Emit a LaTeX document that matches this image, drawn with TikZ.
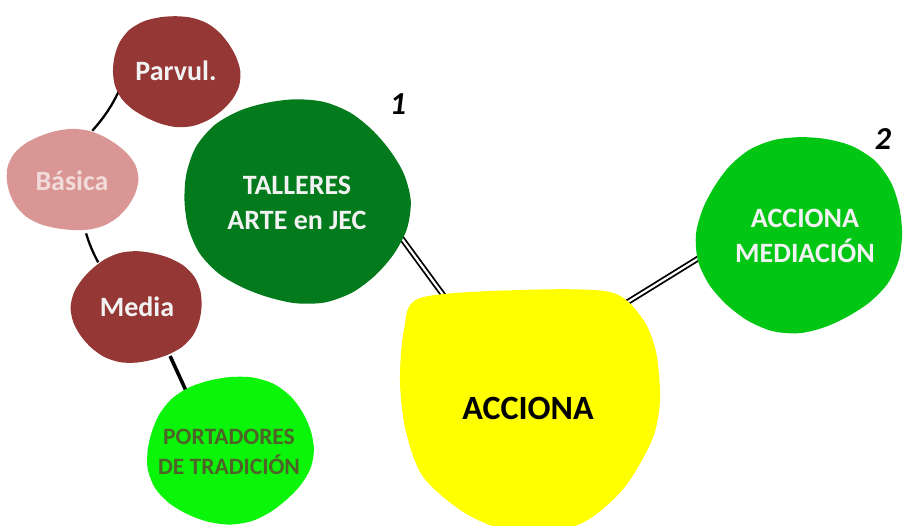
\documentclass[tikz,border=0pt]{standalone}
\usepackage{fontspec}
\setmainfont{Carlito}
\pgfdeclarelayer{lines}
\pgfdeclarelayer{blobs}
\pgfsetlayers{lines,blobs,main}
\definecolor{brown1}{HTML}{953735}
\definecolor{pink1}{HTML}{D99694}
\definecolor{pinktext}{HTML}{F2DCDB}
\definecolor{paletext}{HTML}{F2F2F2}
\definecolor{darkgreen1}{HTML}{037A1B}
\definecolor{midgreen}{HTML}{02C614}
\definecolor{brightgreen}{HTML}{0AF50A}
\definecolor{olivetext}{HTML}{4F6228}
\definecolor{yellow1}{HTML}{FFFF00}
\newcommand\blobat[6]{%
  \begin{pgfonlayer}{blobs}
  \fill[#6] plot[smooth cycle, domain=0:345, samples=24, variable=\q]
    ({#1+#3*(1+0.03*sin(2*\q+#5)+0.015*sin(5*\q+2*#5))*cos(\q)},
     {#2+#4*(1+0.03*sin(2*\q+#5)+0.015*sin(5*\q+2*#5))*sin(\q)});
  \end{pgfonlayer}}
\tikzset{
  bubble/.style={circle, inner sep=0pt, align=center, font=\bfseries\fontsize{28}{35}\selectfont},
  thin link/.style={line width=2.3pt, black},
  thick link/.style={line width=3.6pt, black},
  double link/.style={line width=1.8pt, double=white, double distance=2.2pt, black},
  numlabel/.style={font=\bfseries\itshape\fontsize{32}{32}\selectfont, black}
}
\begin{document}
\begin{tikzpicture}[x=1pt,y=-1pt]
\useasboundingbox (0,0) rectangle (909,525);
\clip (0,0) rectangle (909,525);
% nodes
\node[bubble, minimum size=116pt, text=paletext] (parvul) at (176,71) {Parvul.};
\node[bubble, minimum size=108pt, text=pinktext] (basica) at (72,181) {Básica};
\node[bubble, minimum size=118pt, text=paletext] (media) at (137,307) {Media};
\node[bubble, minimum size=150pt, text=olivetext, font=\bfseries\fontsize{23.5}{30}\selectfont] (portadores) at (229,452) {PORTADORES\\DE TRADICIÓN};
\node[bubble, minimum size=212pt, text=paletext] (talleres) at (297,203) {TALLERES\\ARTE en JEC};
\node[bubble, minimum size=240pt, text=black, font=\bfseries\fontsize{34}{40}\selectfont] (acciona) at (528,408) {ACCIONA};
\node[bubble, minimum size=200pt, text=paletext] (mediacion) at (805,236) {ACCIONA\\MEDIACIÓN};
\node[numlabel] (n1) at (398,104) {1};
\node[numlabel] (n2) at (883,139) {2};
% blobs
\blobat{176}{71}{63}{56}{20}{brown1}
\blobat{72}{180}{64}{52}{70}{pink1}
\blobat{137}{307}{64}{57}{130}{brown1}
\blobat{230}{450}{84}{73}{200}{brightgreen}
\blobat{296}{201}{111}{104}{40}{darkgreen1}
\blobat{800}{234}{102}{99}{160}{midgreen}
\begin{pgfonlayer}{blobs}
\fill[yellow1] plot[smooth cycle] coordinates {(420,298) (520,290) (610,292) (642,318) (656,352) (660,400) (652,440) (624,488) (584,522) (530,536) (470,516) (424,478) (406,432) (400,382) (404,330)};
\end{pgfonlayer}
% connectors
\begin{pgfonlayer}{lines}
\draw[thin link] (parvul.197) to[bend left=8] (basica.68);
\draw[thin link] (basica.285) to[bend right=5] (media.131);
\draw[thick link] (media.304) -- (portadores.125);
\draw[double link] (talleres.343) -- (acciona.127);
\draw[double link] (acciona.50) -- (mediacion.190);
\end{pgfonlayer}
\end{tikzpicture}
\end{document}
